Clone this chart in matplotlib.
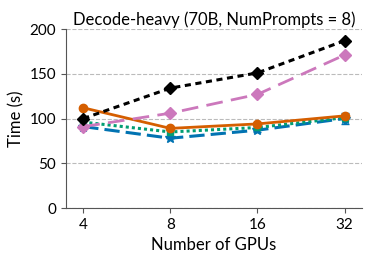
import matplotlib
matplotlib.use("Agg")
import matplotlib.pyplot as plt

gpus = ["4", "8", "16", "32"]
series_black = [100, 134, 151, 187]
series_pink = [91, 106, 127, 171]
series_orange = [112, 89, 94, 103]
series_green = [96, 85, 90, 101]
series_blue = [91, 78, 87, 100]
blue_err = [0, 0, 2, 6]

plt.rcParams['font.family'] = ['Lato', 'DejaVu Sans']

fig = plt.figure(figsize=(3.72, 2.64), dpi=100)
ax = fig.add_axes([0.177, 0.212, 0.796, 0.678])

x = range(len(gpus))
ax.errorbar(x, series_blue, yerr=blue_err, color='#0173b2', linestyle=(0, (5, 2)),
            linewidth=2.2, marker='*', markersize=7, capsize=3, zorder=3)
ax.plot(x, series_green, color='#029e73', linestyle=(0, (1, 1)), linewidth=2.2,
        marker='s', markersize=5, zorder=4)
ax.plot(x, series_orange, color='#d55e00', linestyle='-', linewidth=2,
        marker='o', markersize=6, zorder=5)
ax.plot(x, series_pink, color='#cc78bc', linestyle=(0, (6, 3)), linewidth=2,
        marker='D', markersize=6, zorder=5)
ax.plot(x, series_black, color='black', linestyle=(0, (2, 1.5)), linewidth=2.2,
        marker='D', markersize=6, zorder=6)

ax.set_xticks(list(x))
ax.set_xticklabels(gpus)
ax.set_xlim(-0.2, 3.2)
ax.set_ylim(0, 200)
ax.set_yticks([0, 50, 100, 150, 200])
ax.yaxis.grid(True, linestyle='--', color='#bbbbbb', linewidth=0.8)
ax.set_axisbelow(True)
for s in ['top', 'right']:
    ax.spines[s].set_visible(False)
for s in ['left', 'bottom']:
    ax.spines[s].set_color('#555555')
ax.tick_params(labelsize=11, color='#555555')
ax.set_xlabel('Number of GPUs', fontsize=12)
ax.set_ylabel('Time (s)', fontsize=12)
ax.set_title('Decode-heavy (70B, NumPrompts = 8)', fontsize=12, pad=3)

fig.savefig('out.png', dpi=100)
